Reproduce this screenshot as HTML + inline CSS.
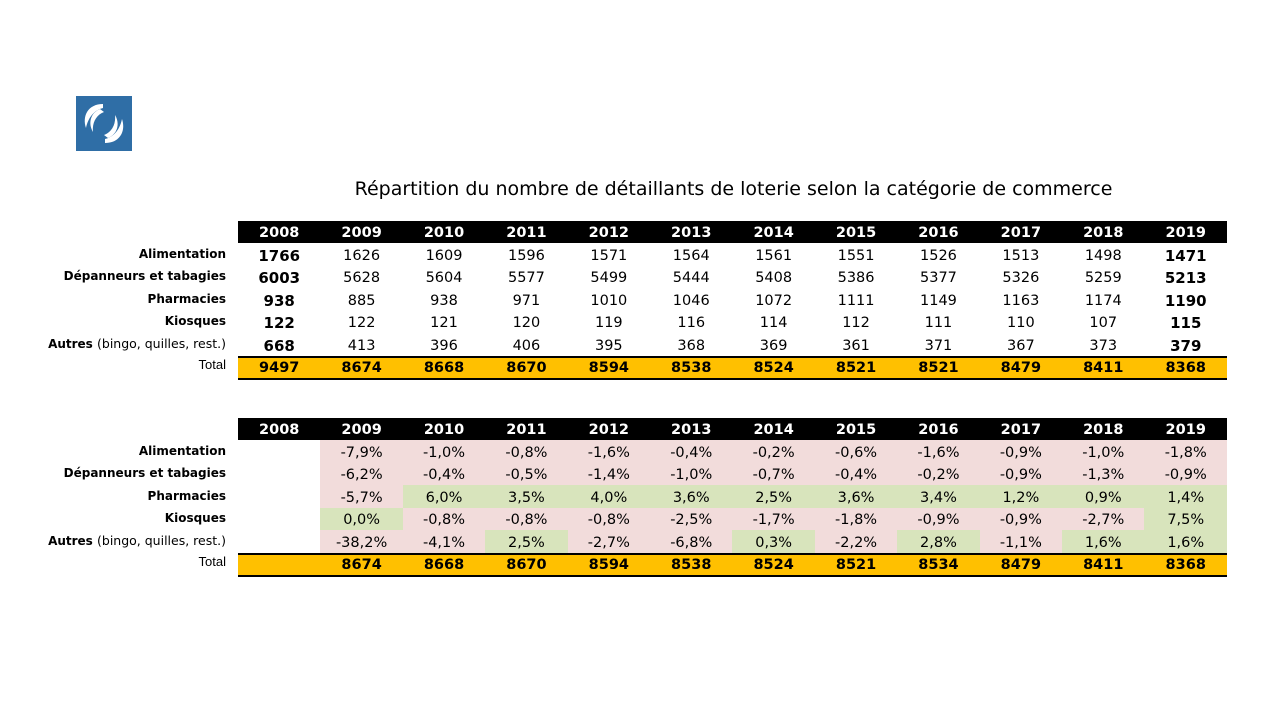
<!DOCTYPE html>
<html><head><meta charset="utf-8"><style>
body{margin:0;width:1280px;height:720px;background:#fff;position:relative;overflow:hidden;font-family:"DejaVu Sans","Liberation Sans",sans-serif;}
.t{position:absolute;left:238px;width:989px;border-collapse:collapse;table-layout:fixed;}
.t td{padding:0;text-align:center;font-size:14.5px;color:#000;white-space:nowrap;}
.t tr.h td{background:#000;color:#fff;font-weight:bold;height:21px;font-size:14.5px;padding-top:1px;}
.t tr.d td{height:20px;padding-top:2.5px;}
.t tr.tot td{background:#ffc000;font-weight:bold;height:20px;border-top:2px solid #000;border-bottom:2px solid #000;font-size:14.5px;}
.b{font-weight:bold;font-size:15px!important;}
.p{background:#f2dcdb;}
.g{background:#d8e4bc;}
.lab{position:absolute;right:1054px;font-size:12px;font-weight:bold;white-space:nowrap;text-align:right;}
.lab span{font-weight:normal;font-size:12.5px}
</style></head><body>
<svg style="position:absolute;left:76px;top:96px" width="56" height="55" viewBox="0 0 56 55">
<rect width="56" height="55" fill="#2f6ea6"/>
<path d="M27 8 C12 8 6 20 10 32 C12 22 18 14 27 12 Z" fill="#fff"/>
<path d="M24 13 C14 17 12 28 17 36 C16 27 20 19 28 16Z" fill="#fff"/>
<path d="M29 47 C44 47 50 35 46 23 C44 33 38 41 29 43 Z" fill="#fff"/>
<path d="M32 42 C42 38 44 27 39 19 C40 28 36 36 28 39Z" fill="#fff"/>
</svg>
<div style="position:absolute;left:0;width:1467px;top:178px;text-align:center;font-size:19px;font-family:'DejaVu Sans',sans-serif">Répartition du nombre de détaillants de loterie selon la catégorie de commerce</div>

<div class="lab" style="top:247px">Alimentation</div>
<div class="lab" style="top:269px">Dépanneurs et tabagies</div>
<div class="lab" style="top:292px">Pharmacies</div>
<div class="lab" style="top:314px">Kiosques</div>
<div class="lab" style="top:336px">Autres <span>(bingo, quilles, rest.)</span></div>
<div class="lab" style="top:357px;font-weight:normal;font-family:'Liberation Sans',sans-serif;font-size:13px">Total</div>

<table class="t" style="top:221px">
<tr class="h"><td>2008</td><td>2009</td><td>2010</td><td>2011</td><td>2012</td><td>2013</td><td>2014</td><td>2015</td><td>2016</td><td>2017</td><td>2018</td><td>2019</td></tr>
<tr class="d"><td class="b">1766</td><td>1626</td><td>1609</td><td>1596</td><td>1571</td><td>1564</td><td>1561</td><td>1551</td><td>1526</td><td>1513</td><td>1498</td><td class="b">1471</td></tr>
<tr class="d"><td class="b">6003</td><td>5628</td><td>5604</td><td>5577</td><td>5499</td><td>5444</td><td>5408</td><td>5386</td><td>5377</td><td>5326</td><td>5259</td><td class="b">5213</td></tr>
<tr class="d"><td class="b">938</td><td>885</td><td>938</td><td>971</td><td>1010</td><td>1046</td><td>1072</td><td>1111</td><td>1149</td><td>1163</td><td>1174</td><td class="b">1190</td></tr>
<tr class="d"><td class="b">122</td><td>122</td><td>121</td><td>120</td><td>119</td><td>116</td><td>114</td><td>112</td><td>111</td><td>110</td><td>107</td><td class="b">115</td></tr>
<tr class="d"><td class="b">668</td><td>413</td><td>396</td><td>406</td><td>395</td><td>368</td><td>369</td><td>361</td><td>371</td><td>367</td><td>373</td><td class="b">379</td></tr>
<tr class="tot"><td>9497</td><td>8674</td><td>8668</td><td>8670</td><td>8594</td><td>8538</td><td>8524</td><td>8521</td><td>8521</td><td>8479</td><td>8411</td><td>8368</td></tr>
</table>

<div class="lab" style="top:444px">Alimentation</div>
<div class="lab" style="top:466px">Dépanneurs et tabagies</div>
<div class="lab" style="top:489px">Pharmacies</div>
<div class="lab" style="top:511px">Kiosques</div>
<div class="lab" style="top:533px">Autres <span>(bingo, quilles, rest.)</span></div>
<div class="lab" style="top:554px;font-weight:normal;font-family:'Liberation Sans',sans-serif;font-size:13px">Total</div>

<table class="t" style="top:418px">
<tr class="h"><td>2008</td><td>2009</td><td>2010</td><td>2011</td><td>2012</td><td>2013</td><td>2014</td><td>2015</td><td>2016</td><td>2017</td><td>2018</td><td>2019</td></tr>
<tr class="d"><td></td><td class="p">-7,9%</td><td class="p">-1,0%</td><td class="p">-0,8%</td><td class="p">-1,6%</td><td class="p">-0,4%</td><td class="p">-0,2%</td><td class="p">-0,6%</td><td class="p">-1,6%</td><td class="p">-0,9%</td><td class="p">-1,0%</td><td class="p">-1,8%</td></tr>
<tr class="d"><td></td><td class="p">-6,2%</td><td class="p">-0,4%</td><td class="p">-0,5%</td><td class="p">-1,4%</td><td class="p">-1,0%</td><td class="p">-0,7%</td><td class="p">-0,4%</td><td class="p">-0,2%</td><td class="p">-0,9%</td><td class="p">-1,3%</td><td class="p">-0,9%</td></tr>
<tr class="d"><td></td><td class="p">-5,7%</td><td class="g">6,0%</td><td class="g">3,5%</td><td class="g">4,0%</td><td class="g">3,6%</td><td class="g">2,5%</td><td class="g">3,6%</td><td class="g">3,4%</td><td class="g">1,2%</td><td class="g">0,9%</td><td class="g">1,4%</td></tr>
<tr class="d"><td></td><td class="g">0,0%</td><td class="p">-0,8%</td><td class="p">-0,8%</td><td class="p">-0,8%</td><td class="p">-2,5%</td><td class="p">-1,7%</td><td class="p">-1,8%</td><td class="p">-0,9%</td><td class="p">-0,9%</td><td class="p">-2,7%</td><td class="g">7,5%</td></tr>
<tr class="d"><td></td><td class="p">-38,2%</td><td class="p">-4,1%</td><td class="g">2,5%</td><td class="p">-2,7%</td><td class="p">-6,8%</td><td class="g">0,3%</td><td class="p">-2,2%</td><td class="g">2,8%</td><td class="p">-1,1%</td><td class="g">1,6%</td><td class="g">1,6%</td></tr>
<tr class="tot"><td></td><td>8674</td><td>8668</td><td>8670</td><td>8594</td><td>8538</td><td>8524</td><td>8521</td><td>8534</td><td>8479</td><td>8411</td><td>8368</td></tr>
</table>
</body></html>
